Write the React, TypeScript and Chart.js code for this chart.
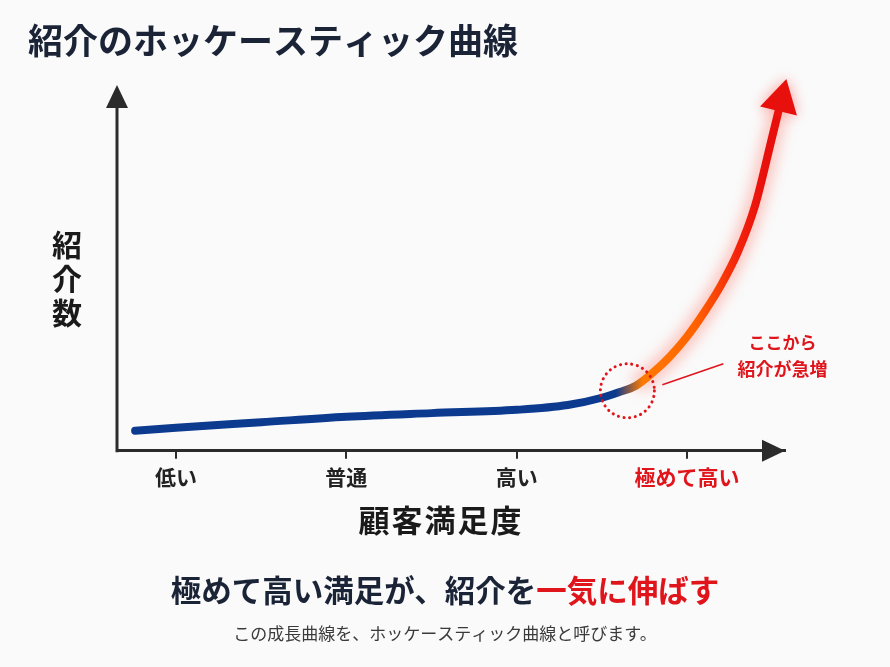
import React, { useEffect, useRef } from 'react';
import { Chart, registerables } from 'chart.js';

Chart.register(...registerables);

// ---- data ----
const TITLE = '紹介のホッケースティック曲線';
const X_TICKS = [1, 2, 3, 4];
const X_LABELS = ['低い', '普通', '高い', '極めて高い'];
const X_TITLE = '顧客満足度';
const Y_TITLE = ['紹', '介', '数'];
const SATISFACTION = [0.76, 1.0, 1.5, 2.0, 2.5, 3.0, 3.3, 3.5, 3.6, 3.7, 3.8, 3.9, 4.0, 4.1, 4.2, 4.3, 4.4, 4.5, 4.54];
const REFERRALS = [5.5, 6.3, 7.8, 9.3, 10.3, 11.2, 12.5, 14.5, 16.0, 17.8, 21.4, 25.8, 31.2, 37.8, 45.3, 54.5, 67.1, 85.8, 93.4];
const GLOW_FROM = 3.7;
const SURGE_POINT = { x: 3.65, y: 16.4 };
const ANNOTATION = ['ここから', '紹介が急増'];
const HEADLINE_DARK = '極めて高い満足が、紹介を';
const HEADLINE_RED = '一気に伸ばす';
const SUBTEXT = 'この成長曲線を、ホッケースティック曲線と呼びます。';
const X_MIN = 0.6536;
const X_MAX = 4.5753;

const FONT = '"Noto Sans CJK JP", "Noto Sans", sans-serif';
const DARK = '#1b2437';
const RED = '#e0141b';
const AXIS = '#2b2b2b';
const BG = '#fafafa';

export default function App() {
  const ref = useRef<HTMLCanvasElement | null>(null);

  useEffect(() => {
    document.body.style.margin = '0';
    document.body.style.background = BG;
    const canvas = ref.current!;
    const points = SATISFACTION.map((x, i) => ({ x, y: REFERRALS[i] }));
    const glowPoints = points.filter((p) => p.x >= GLOW_FROM);

    const decor = {
      id: 'decor',
      beforeDatasetDraw(chart: any, args: any) {
        if (args.index === 1) {
          chart.ctx.save();
          chart.ctx.filter = 'blur(7px)';
        }
      },
      afterDatasetDraw(chart: any, args: any) {
        if (args.index === 1) chart.ctx.restore();
      },
      afterDraw(chart: any) {
        const ctx = chart.ctx as CanvasRenderingContext2D;
        const { left, right, top, bottom } = chart.chartArea;
        const xs = chart.scales.x;
        const ys = chart.scales.y;
        ctx.save();

        // y axis with arrow
        ctx.strokeStyle = AXIS;
        ctx.fillStyle = AXIS;
        ctx.lineWidth = 3;
        ctx.beginPath();
        ctx.moveTo(left, bottom + 1.5);
        ctx.lineTo(left, top + 18);
        ctx.stroke();
        ctx.beginPath();
        ctx.moveTo(left, top);
        ctx.lineTo(left - 11, top + 23);
        ctx.lineTo(left + 11, top + 23);
        ctx.closePath();
        ctx.fill();
        // x axis arrow head
        ctx.beginPath();
        ctx.moveTo(right, bottom);
        ctx.lineTo(right - 23, bottom - 11);
        ctx.lineTo(right - 23, bottom + 11);
        ctx.closePath();
        ctx.fill();

        // curve arrow head
        const meta = chart.getDatasetMeta(0);
        const last = meta.data[meta.data.length - 1];
        const prev = meta.data[meta.data.length - 2];
        let dx = last.x - (last.cp1x ?? prev.x);
        let dy = last.y - (last.cp1y ?? prev.y);
        const len = Math.hypot(dx, dy) || 1;
        dx /= len; dy /= len;
        const nx = -dy, ny = dx;
        const bx = last.x - dx * 2, by = last.y - dy * 2;
        ctx.save();
        ctx.shadowColor = 'rgba(255,40,30,0.45)';
        ctx.shadowBlur = 14;
        ctx.fillStyle = '#e8100c';
        ctx.beginPath();
        ctx.moveTo(last.x + dx * 31, last.y + dy * 31);
        ctx.lineTo(bx + nx * 19, by + ny * 19);
        ctx.lineTo(bx - nx * 19, by - ny * 19);
        ctx.closePath();
        ctx.fill();
        ctx.restore();

        // dotted circle
        const cx = xs.getPixelForValue(SURGE_POINT.x);
        const cy = ys.getPixelForValue(SURGE_POINT.y);
        ctx.save();
        ctx.strokeStyle = RED;
        ctx.lineWidth = 3;
        ctx.lineCap = 'round';
        ctx.setLineDash([0.1, 5.6]);
        ctx.beginPath();
        ctx.arc(cx, cy, 27, 0, Math.PI * 2);
        ctx.stroke();
        ctx.restore();
        // annotation line
        ctx.strokeStyle = RED;
        ctx.lineWidth = 1.5;
        ctx.beginPath();
        ctx.moveTo(cx + 35, cy - 6);
        ctx.lineTo(cx + 96, cy - 27);
        ctx.stroke();
        ctx.fillStyle = RED;
        ctx.font = `bold 17px ${FONT}`;
        ctx.textAlign = 'center';
        ctx.textBaseline = 'middle';
        ctx.fillText(ANNOTATION[0], cx + 155, cy - 48);
        ctx.font = `bold 18px ${FONT}`;
        ctx.fillText(ANNOTATION[1], cx + 155, cy - 22);

        // title
        ctx.fillStyle = DARK;
        ctx.textAlign = 'left';
        ctx.font = `bold 35px ${FONT}`;
        ctx.fillText(TITLE, 28, 41);

        // y title stacked
        ctx.fillStyle = '#1a1a1a';
        ctx.textAlign = 'center';
        ctx.font = `bold 30px ${FONT}`;
        Y_TITLE.forEach((ch, i) => ctx.fillText(ch, 67, 245 + i * 34));

        // x title
        ctx.font = `bold 31px ${FONT}`;
        (ctx as any).letterSpacing = '2px';
        ctx.fillText(X_TITLE, 441, 520);
        (ctx as any).letterSpacing = '0px';

        // headline
        ctx.font = `bold 30.5px ${FONT}`;
        ctx.textAlign = 'left';
        const w1 = ctx.measureText(HEADLINE_DARK).width;
        const w2 = ctx.measureText(HEADLINE_RED).width;
        const sx = 445 - (w1 + w2) / 2;
        ctx.fillStyle = DARK;
        ctx.fillText(HEADLINE_DARK, sx, 590);
        ctx.fillStyle = RED;
        ctx.fillText(HEADLINE_RED, sx + w1, 590);

        // sub text
        ctx.textAlign = 'center';
        ctx.fillStyle = '#3a3a3a';
        ctx.font = `17px ${FONT}`;
        ctx.fillText(SUBTEXT, 445, 634);

        ctx.restore();
      },
    };

    const lineGradient = (c: any) => {
      const chart = c.chart;
      const area = chart.chartArea;
      if (!area) return '#0b3a8f';
      const xs = chart.scales.x;
      const x0 = xs.getPixelForValue(X_MIN);
      const x1 = xs.getPixelForValue(X_MAX);
      const g = chart.ctx.createLinearGradient(x0, 0, x1, 0);
      const stop = (v: number) => (xs.getPixelForValue(v) - x0) / (x1 - x0);
      g.addColorStop(0, '#0b3a8f');
      g.addColorStop(stop(3.58), '#0b3a8f');
      g.addColorStop(stop(3.74), '#ff7a00');
      g.addColorStop(stop(4.05), '#ff6200');
      g.addColorStop(stop(4.3), '#f3230c');
      g.addColorStop(stop(4.45), '#e8100c');
      g.addColorStop(1, '#e8100c');
      return g;
    };

    const chart = new Chart(canvas, {
      type: 'line',
      data: {
        datasets: [
          {
            data: points,
            borderColor: lineGradient,
            borderWidth: 8,
            borderCapStyle: 'round',
            borderJoinStyle: 'round',
            pointRadius: 0,
            cubicInterpolationMode: 'monotone',
            clip: false,
            order: 0,
          } as any,
          {
            data: glowPoints,
            borderColor: 'rgba(255,70,50,0.3)',
            borderWidth: 18,
            pointRadius: 0,
            cubicInterpolationMode: 'monotone',
            clip: false,
            order: 1,
          } as any,
        ],
      },
      options: {
        responsive: false,
        animation: false,
        events: [],
        layout: { padding: { left: 117, right: 105, top: 85, bottom: 171 } },
        plugins: {
          legend: { display: false },
          tooltip: { enabled: false },
          title: { display: false },
        },
        scales: {
          x: {
            type: 'linear',
            min: X_MIN,
            max: X_MAX,
            afterBuildTicks: (s: any) => {
              s.ticks = X_TICKS.map((v) => ({ value: v }));
            },
            ticks: {
              callback: (_v: any, i: number) => X_LABELS[i],
              color: (c: any) => (c.index === 3 ? RED : '#222'),
              font: { family: FONT, size: 21, weight: 'bold' },
              padding: 6,
              autoSkip: false,
              maxRotation: 0,
            },
            grid: {
              display: true,
              drawOnChartArea: false,
              drawTicks: true,
              tickLength: 8,
              color: AXIS,
              lineWidth: 2,
            },
            border: { display: true, color: AXIS, width: 3 },
          },
          y: { display: false, min: 0, max: 100 },
        },
      } as any,
      plugins: [decor],
    });
    return () => chart.destroy();
  }, []);

  return (
    <div style={{ width: 890, height: 667, background: BG }}>
      <canvas ref={ref} width={890} height={667} style={{ display: 'block' }} />
    </div>
  );
}
